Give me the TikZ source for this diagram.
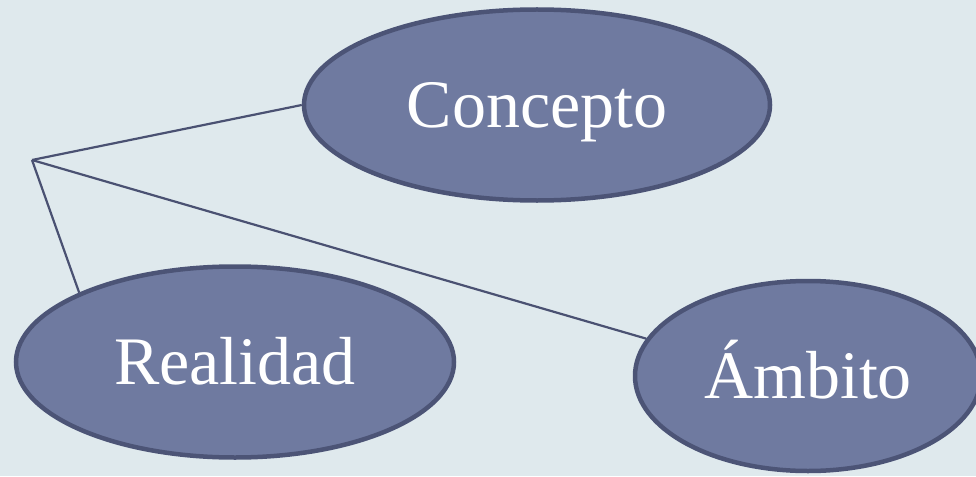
\documentclass[tikz,border=0pt]{standalone}
\usepackage{fontspec}
\setmainfont{Liberation Serif}
\usetikzlibrary{shapes.geometric}
\definecolor{bgc}{HTML}{DFE9ED}
\definecolor{ellfill}{HTML}{6F7AA0}
\definecolor{ellline}{HTML}{4C5476}
\definecolor{conn}{HTML}{4A5172}
\tikzset{
  oval/.style={ellipse, draw=ellline, fill=ellfill, line width=4.5pt, inner sep=0pt,
    text=white, font=\fontsize{68}{68}\selectfont, text height=45pt, text depth=0pt},
  link/.style={draw=conn, line width=2.2pt}
}
\begin{document}
\begin{tikzpicture}[x=1pt,y=1pt]
\useasboundingbox (0,0) rectangle (976,-476);
\clip (0,0) rectangle (976,-476);
\fill[bgc] (0,0) rectangle (976,-476);
\coordinate (apex) at (32,-160);
\node[oval, minimum width=466pt, minimum height=191pt] (concepto) at (537,-105) {Concepto};
\node[oval, minimum width=438pt, minimum height=191pt] (realidad) at (235,-362) {Realidad};
\node[oval, minimum width=346pt, minimum height=190pt] (ambito) at (808,-376) {Ámbito};
\draw[link] (apex) -- (concepto.west);
\draw[link] (apex) -- (realidad.156);
\draw[link] (apex) -- (ambito.167);
\end{tikzpicture}
\end{document}
